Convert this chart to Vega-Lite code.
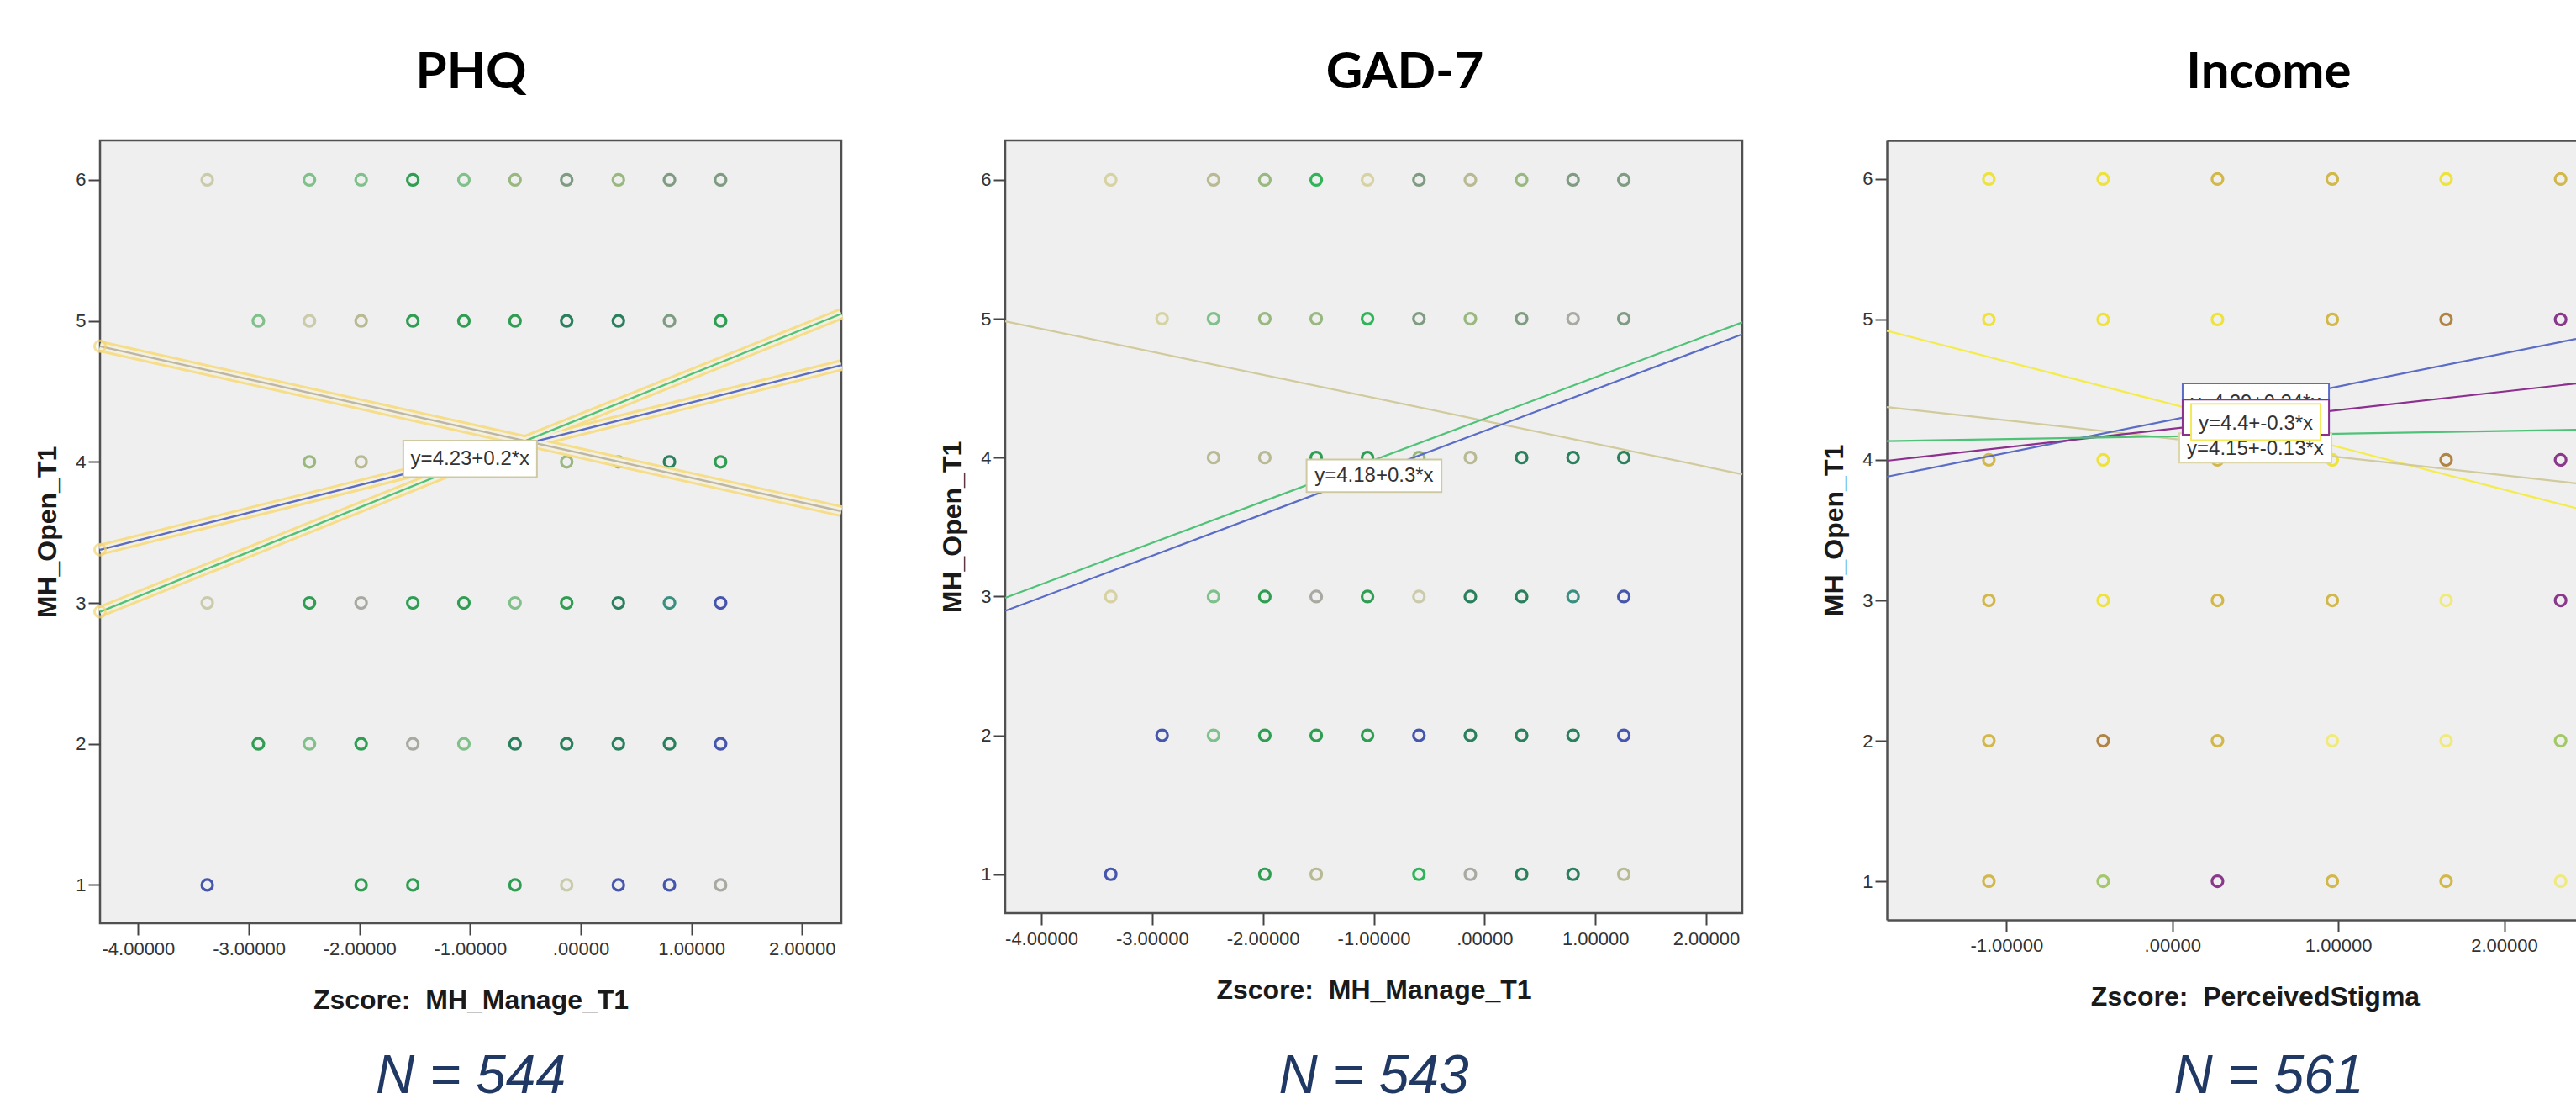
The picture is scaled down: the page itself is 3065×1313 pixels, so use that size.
{
  "$schema": "https://vega.github.io/schema/vega-lite/v6.json",
  "padding": {"left": 39, "top": 54, "right": 0, "bottom": 0},
  "background": "white",
  "config": {
    "font": "Liberation Sans",
    "view": {"fill": "#efefef", "stroke": "#505050", "strokeWidth": 2.5},
    "axis": {"grid": false, "domain": false, "labelFont": "Liberation Sans", "labelFontSize": 22, "labelColor": "#333333", "labelPadding": 6, "tickColor": "#444444", "tickSize": 14, "tickWidth": 2, "titleFont": "Liberation Sans", "titleFontSize": 32, "titleFontWeight": "bold", "titleColor": "#1a1a1a"},
    "axisX": {"titlePadding": 35},
    "axisY": {"titlePadding": 16, "labelPadding": 3},
    "title": {"orient": "bottom", "anchor": "middle", "frame": "group", "font": "Liberation Sans", "fontSize": 64, "fontStyle": "italic", "fontWeight": "normal", "color": "#203864", "offset": 44}
  },
  "datasets": {
    "points": [
      {"panel":"PHQ","x":-3.376,"y":6,"tone":"pale"},{"panel":"PHQ","x":-2.452,"y":6,"tone":"ltgreen"},{"panel":"PHQ","x":-1.985,"y":6,"tone":"ltgreen"},{"panel":"PHQ","x":-1.518,"y":6,"tone":"green"},{"panel":"PHQ","x":-1.056,"y":6,"tone":"ltgreen"},{"panel":"PHQ","x":-0.594,"y":6,"tone":"olive"},{"panel":"PHQ","x":-0.127,"y":6,"tone":"sage"},{"panel":"PHQ","x":0.34,"y":6,"tone":"olive"},{"panel":"PHQ","x":0.802,"y":6,"tone":"sage"},{"panel":"PHQ","x":1.264,"y":6,"tone":"sage"},
      {"panel":"PHQ","x":-2.914,"y":5,"tone":"ltgreen"},{"panel":"PHQ","x":-2.452,"y":5,"tone":"pale"},{"panel":"PHQ","x":-1.985,"y":5,"tone":"tan"},{"panel":"PHQ","x":-1.518,"y":5,"tone":"green"},{"panel":"PHQ","x":-1.056,"y":5,"tone":"green"},{"panel":"PHQ","x":-0.594,"y":5,"tone":"green"},{"panel":"PHQ","x":-0.127,"y":5,"tone":"dkgreen"},{"panel":"PHQ","x":0.34,"y":5,"tone":"dkgreen"},{"panel":"PHQ","x":0.802,"y":5,"tone":"sage"},{"panel":"PHQ","x":1.264,"y":5,"tone":"green"},
      {"panel":"PHQ","x":-2.452,"y":4,"tone":"olive"},{"panel":"PHQ","x":-1.985,"y":4,"tone":"tan"},{"panel":"PHQ","x":-1.518,"y":4,"tone":"green"},{"panel":"PHQ","x":-1.056,"y":4,"tone":"green"},{"panel":"PHQ","x":-0.594,"y":4,"tone":"olive"},{"panel":"PHQ","x":-0.127,"y":4,"tone":"olive"},{"panel":"PHQ","x":0.34,"y":4,"tone":"olive"},{"panel":"PHQ","x":0.802,"y":4,"tone":"dkgreen"},{"panel":"PHQ","x":1.264,"y":4,"tone":"green"},
      {"panel":"PHQ","x":-3.376,"y":3,"tone":"pale"},{"panel":"PHQ","x":-2.452,"y":3,"tone":"green"},{"panel":"PHQ","x":-1.985,"y":3,"tone":"grey"},{"panel":"PHQ","x":-1.518,"y":3,"tone":"green"},{"panel":"PHQ","x":-1.056,"y":3,"tone":"green"},{"panel":"PHQ","x":-0.594,"y":3,"tone":"ltgreen"},{"panel":"PHQ","x":-0.127,"y":3,"tone":"green"},{"panel":"PHQ","x":0.34,"y":3,"tone":"dkgreen"},{"panel":"PHQ","x":0.802,"y":3,"tone":"teal"},{"panel":"PHQ","x":1.264,"y":3,"tone":"blue"},
      {"panel":"PHQ","x":-2.914,"y":2,"tone":"green"},{"panel":"PHQ","x":-2.452,"y":2,"tone":"ltgreen"},{"panel":"PHQ","x":-1.985,"y":2,"tone":"green"},{"panel":"PHQ","x":-1.518,"y":2,"tone":"grey"},{"panel":"PHQ","x":-1.056,"y":2,"tone":"ltgreen"},{"panel":"PHQ","x":-0.594,"y":2,"tone":"dkgreen"},{"panel":"PHQ","x":-0.127,"y":2,"tone":"dkgreen"},{"panel":"PHQ","x":0.34,"y":2,"tone":"dkgreen"},{"panel":"PHQ","x":0.802,"y":2,"tone":"dkgreen"},{"panel":"PHQ","x":1.264,"y":2,"tone":"blue"},
      {"panel":"PHQ","x":-3.376,"y":1,"tone":"blue"},{"panel":"PHQ","x":-1.985,"y":1,"tone":"green"},{"panel":"PHQ","x":-1.518,"y":1,"tone":"green"},{"panel":"PHQ","x":-0.594,"y":1,"tone":"green"},{"panel":"PHQ","x":-0.127,"y":1,"tone":"pale"},{"panel":"PHQ","x":0.34,"y":1,"tone":"blue"},{"panel":"PHQ","x":0.802,"y":1,"tone":"blue"},{"panel":"PHQ","x":1.264,"y":1,"tone":"grey"},

      {"panel":"GAD","x":-3.373,"y":6,"tone":"cream"},{"panel":"GAD","x":-2.446,"y":6,"tone":"tan"},{"panel":"GAD","x":-1.983,"y":6,"tone":"olive"},{"panel":"GAD","x":-1.519,"y":6,"tone":"brightgreen"},{"panel":"GAD","x":-1.056,"y":6,"tone":"cream"},{"panel":"GAD","x":-0.592,"y":6,"tone":"sage"},{"panel":"GAD","x":-0.128,"y":6,"tone":"tan"},{"panel":"GAD","x":0.335,"y":6,"tone":"olive"},{"panel":"GAD","x":0.799,"y":6,"tone":"sage"},{"panel":"GAD","x":1.257,"y":6,"tone":"sage"},
      {"panel":"GAD","x":-2.91,"y":5,"tone":"cream"},{"panel":"GAD","x":-2.446,"y":5,"tone":"ltgreen"},{"panel":"GAD","x":-1.983,"y":5,"tone":"olive"},{"panel":"GAD","x":-1.519,"y":5,"tone":"olive"},{"panel":"GAD","x":-1.056,"y":5,"tone":"brightgreen"},{"panel":"GAD","x":-0.592,"y":5,"tone":"sage"},{"panel":"GAD","x":-0.128,"y":5,"tone":"olive"},{"panel":"GAD","x":0.335,"y":5,"tone":"sage"},{"panel":"GAD","x":0.799,"y":5,"tone":"grey"},{"panel":"GAD","x":1.257,"y":5,"tone":"sage"},
      {"panel":"GAD","x":-2.446,"y":4,"tone":"tan"},{"panel":"GAD","x":-1.983,"y":4,"tone":"tan"},{"panel":"GAD","x":-1.519,"y":4,"tone":"green"},{"panel":"GAD","x":-1.056,"y":4,"tone":"green"},{"panel":"GAD","x":-0.592,"y":4,"tone":"olive"},{"panel":"GAD","x":-0.128,"y":4,"tone":"tan"},{"panel":"GAD","x":0.335,"y":4,"tone":"dkgreen"},{"panel":"GAD","x":0.799,"y":4,"tone":"dkgreen"},{"panel":"GAD","x":1.257,"y":4,"tone":"dkgreen"},
      {"panel":"GAD","x":-3.373,"y":3,"tone":"cream"},{"panel":"GAD","x":-2.446,"y":3,"tone":"ltgreen"},{"panel":"GAD","x":-1.983,"y":3,"tone":"green"},{"panel":"GAD","x":-1.519,"y":3,"tone":"grey"},{"panel":"GAD","x":-1.056,"y":3,"tone":"green"},{"panel":"GAD","x":-0.592,"y":3,"tone":"pale"},{"panel":"GAD","x":-0.128,"y":3,"tone":"dkgreen"},{"panel":"GAD","x":0.335,"y":3,"tone":"dkgreen"},{"panel":"GAD","x":0.799,"y":3,"tone":"teal"},{"panel":"GAD","x":1.257,"y":3,"tone":"blue"},
      {"panel":"GAD","x":-2.91,"y":2,"tone":"blue"},{"panel":"GAD","x":-2.446,"y":2,"tone":"ltgreen"},{"panel":"GAD","x":-1.983,"y":2,"tone":"green"},{"panel":"GAD","x":-1.519,"y":2,"tone":"green"},{"panel":"GAD","x":-1.056,"y":2,"tone":"green"},{"panel":"GAD","x":-0.592,"y":2,"tone":"blue"},{"panel":"GAD","x":-0.128,"y":2,"tone":"dkgreen"},{"panel":"GAD","x":0.335,"y":2,"tone":"dkgreen"},{"panel":"GAD","x":0.799,"y":2,"tone":"dkgreen"},{"panel":"GAD","x":1.257,"y":2,"tone":"blue"},
      {"panel":"GAD","x":-3.373,"y":1,"tone":"blue"},{"panel":"GAD","x":-1.983,"y":1,"tone":"green"},{"panel":"GAD","x":-1.519,"y":1,"tone":"tan"},{"panel":"GAD","x":-0.592,"y":1,"tone":"brightgreen"},{"panel":"GAD","x":-0.128,"y":1,"tone":"grey"},{"panel":"GAD","x":0.335,"y":1,"tone":"dkgreen"},{"panel":"GAD","x":0.799,"y":1,"tone":"dkgreen"},{"panel":"GAD","x":1.257,"y":1,"tone":"tan"},

      {"panel":"Income","x":-1.106,"y":6,"tone":"yellow"},{"panel":"Income","x":-0.417,"y":6,"tone":"yellow"},{"panel":"Income","x":0.272,"y":6,"tone":"ochre"},{"panel":"Income","x":0.964,"y":6,"tone":"ochre"},{"panel":"Income","x":1.65,"y":6,"tone":"yellow"},{"panel":"Income","x":2.34,"y":6,"tone":"ochre"},
      {"panel":"Income","x":-1.106,"y":5,"tone":"yellow"},{"panel":"Income","x":-0.417,"y":5,"tone":"yellow"},{"panel":"Income","x":0.272,"y":5,"tone":"yellow"},{"panel":"Income","x":0.964,"y":5,"tone":"ochre"},{"panel":"Income","x":1.65,"y":5,"tone":"brown"},{"panel":"Income","x":2.34,"y":5,"tone":"purple"},
      {"panel":"Income","x":-1.106,"y":4,"tone":"ochre"},{"panel":"Income","x":-0.417,"y":4,"tone":"yellow"},{"panel":"Income","x":0.272,"y":4,"tone":"ochre"},{"panel":"Income","x":0.964,"y":4,"tone":"yellow"},{"panel":"Income","x":1.65,"y":4,"tone":"brown"},{"panel":"Income","x":2.34,"y":4,"tone":"purple"},
      {"panel":"Income","x":-1.106,"y":3,"tone":"ochre"},{"panel":"Income","x":-0.417,"y":3,"tone":"yellow"},{"panel":"Income","x":0.272,"y":3,"tone":"ochre"},{"panel":"Income","x":0.964,"y":3,"tone":"ochre"},{"panel":"Income","x":1.65,"y":3,"tone":"lemon"},{"panel":"Income","x":2.34,"y":3,"tone":"purple"},
      {"panel":"Income","x":-1.106,"y":2,"tone":"ochre"},{"panel":"Income","x":-0.417,"y":2,"tone":"brown"},{"panel":"Income","x":0.272,"y":2,"tone":"ochre"},{"panel":"Income","x":0.964,"y":2,"tone":"lemon"},{"panel":"Income","x":1.65,"y":2,"tone":"lemon"},{"panel":"Income","x":2.34,"y":2,"tone":"lime"},
      {"panel":"Income","x":-1.106,"y":1,"tone":"ochre"},{"panel":"Income","x":-0.417,"y":1,"tone":"lime"},{"panel":"Income","x":0.272,"y":1,"tone":"purple"},{"panel":"Income","x":0.964,"y":1,"tone":"ochre"},{"panel":"Income","x":1.65,"y":1,"tone":"ochre"},{"panel":"Income","x":2.34,"y":1,"tone":"lemon"}
    ],
    "lines": [
      {"panel":"PHQ","tone":"lineblue","x":-4.345,"y":3.377},{"panel":"PHQ","tone":"lineblue","x":2.355,"y":4.686},
      {"panel":"PHQ","tone":"linegreen","x":-4.345,"y":2.937},{"panel":"PHQ","tone":"linegreen","x":2.355,"y":5.05},
      {"panel":"PHQ","tone":"linegrey","x":-4.345,"y":4.82},{"panel":"PHQ","tone":"linegrey","x":2.355,"y":3.65},
      {"panel":"GAD","tone":"linebeige","x":-4.326,"y":4.982},{"panel":"GAD","tone":"linebeige","x":2.326,"y":3.88},
      {"panel":"GAD","tone":"linegreen","x":-4.326,"y":2.99},{"panel":"GAD","tone":"linegreen","x":2.326,"y":4.974},
      {"panel":"GAD","tone":"lineblue","x":-4.326,"y":2.896},{"panel":"GAD","tone":"lineblue","x":2.326,"y":4.889},
      {"panel":"Income","tone":"lineyellow","x":-1.721,"y":4.92},{"panel":"Income","tone":"lineyellow","x":2.438,"y":3.655},
      {"panel":"Income","tone":"linebeige","x":-1.721,"y":4.376},{"panel":"Income","tone":"linebeige","x":2.438,"y":3.833},
      {"panel":"Income","tone":"lineblue","x":-1.721,"y":3.88},{"panel":"Income","tone":"lineblue","x":2.438,"y":4.863},
      {"panel":"Income","tone":"linepurple","x":-1.721,"y":3.994},{"panel":"Income","tone":"linepurple","x":2.438,"y":4.545},
      {"panel":"Income","tone":"linegreen","x":-1.721,"y":4.134},{"panel":"Income","tone":"linegreen","x":2.438,"y":4.215}
    ],
    "labels": [
      {"panel":"PHQ","order":1,"x":-1.604,"x2":-0.396,"y":3.891,"y2":4.151,"tx":-1.0,"ty":4.02,"text":"y=4.23+0.2*x","tone":"boxtan"},
      {"panel":"GAD","order":1,"x":-1.606,"x2":-0.388,"y":3.752,"y2":3.986,"tx":-0.997,"ty":3.87,"text":"y=4.18+0.3*x","tone":"boxtan"},
      {"panel":"Income","order":1,"x":0.062,"x2":0.944,"y":4.2,"y2":4.545,"tx":0.503,"ty":4.41,"text":"y=4.29+0.24*x","tone":"lineblue"},
      {"panel":"Income","order":2,"x":0.042,"x2":0.959,"y":3.98,"y2":4.19,"tx":0.5,"ty":4.08,"text":"y=4.15+-0.13*x","tone":"linebeige"},
      {"panel":"Income","order":3,"x":0.062,"x2":0.944,"y":4.18,"y2":4.43,"tx":0.503,"ty":4.29,"text":"y=4.22+0.13*x","tone":"linepurple"},
      {"panel":"Income","order":4,"x":0.113,"x2":0.893,"y":4.14,"y2":4.4,"tx":0.503,"ty":4.26,"text":"y=4.4+-0.3*x","tone":"lineyellow"}
    ]
  },
  "spacing": 87,
  "hconcat": [
    {
      "spacing": 85,
      "hconcat": [
        {
          "width": 882, "height": 931,
          "title": {"text": "N = 544"},
          "resolve": {"axis": {"x": "independent", "y": "independent"}},
          "layer": [
            {"data": {"name": "points"}, "transform": [{"filter": "datum.panel == 'PHQ'"}],
             "mark": {"type": "point", "shape": "circle", "filled": false, "size": 170, "strokeWidth": 3.2, "opacity": 1},
             "encoding": {
               "x": {"field": "x", "type": "quantitative", "scale": {"domain": [-4.345, 2.355], "nice": false, "zero": false}, "axis": {"orient": "bottom", "title": "Zscore:\u00a0 MH_Manage_T1", "values": [-4, -3, -2, -1, 0, 1, 2], "labelExpr": "datum.value == 0 ? '.00000' : (datum.value < 0 ? '-' : '') + format(abs(datum.value), '.5f')"}},
               "y": {"field": "y", "type": "quantitative", "scale": {"domain": [0.728, 6.28], "nice": false, "zero": false}, "axis": {"orient": "left", "title": "MH_Open_T1", "values": [1, 2, 3, 4, 5, 6]}},
               "color": {"field": "tone", "type": "nominal", "legend": null, "scale": {"domain": ["green","dkgreen","ltgreen","olive","sage","tan","pale","grey","teal","blue","cream","brightgreen","yellow","ochre","brown","purple","lemon","lime","lineblue","linegreen","linebeige","linegrey","lineyellow","linepurple","boxtan"], "range": ["#2f9d52","#2a805c","#80c08a","#98b880","#7f9c82","#b9b994","#cbcbac","#a9a9a1","#3a9080","#4656ad","#d6d2a2","#2fb458","#eee23c","#d2b84a","#b08444","#8a388a","#f0ea7c","#a3c86a","#5a6cc6","#50c278","#d0ca9c","#bcb6a6","#f4ec4e","#8c2f8e","#cfc9a2"]}}
             }},
            {"data": {"name": "lines"}, "transform": [{"filter": "datum.panel == 'PHQ'"}],
             "mark": {"type": "line", "color": "#f6da7e", "strokeWidth": 14, "opacity": 0.9},
             "encoding": {
               "x": {"field": "x", "type": "quantitative", "scale": {"domain": [-4.345, 2.355], "nice": false, "zero": false}, "axis": {"orient": "top", "title": "PHQ", "labels": false, "ticks": false, "domain": false, "titleFont": "Lato", "titleFontSize": 60, "titleFontWeight": "bold", "titleColor": "#000000", "titlePadding": 50}},
               "y": {"field": "y", "type": "quantitative", "scale": {"domain": [0.728, 6.28], "nice": false, "zero": false}, "axis": null},
               "detail": {"field": "tone"}
             }},
            {"data": {"name": "lines"}, "transform": [{"filter": "datum.panel == 'PHQ'"}],
             "mark": {"type": "line", "color": "#f4f0df", "strokeWidth": 8},
             "encoding": {
               "x": {"field": "x", "type": "quantitative", "scale": {"domain": [-4.345, 2.355], "nice": false, "zero": false}, "axis": null},
               "y": {"field": "y", "type": "quantitative", "scale": {"domain": [0.728, 6.28], "nice": false, "zero": false}, "axis": null},
               "detail": {"field": "tone"}
             }},
            {"data": {"name": "lines"}, "transform": [{"filter": "datum.panel == 'PHQ'"}],
             "mark": {"type": "line", "strokeWidth": 2.4},
             "encoding": {
               "x": {"field": "x", "type": "quantitative", "scale": {"domain": [-4.345, 2.355], "nice": false, "zero": false}, "axis": null},
               "y": {"field": "y", "type": "quantitative", "scale": {"domain": [0.728, 6.28], "nice": false, "zero": false}, "axis": null},
               "color": {"field": "tone", "type": "nominal", "legend": null, "scale": {"domain": ["green","dkgreen","ltgreen","olive","sage","tan","pale","grey","teal","blue","cream","brightgreen","yellow","ochre","brown","purple","lemon","lime","lineblue","linegreen","linebeige","linegrey","lineyellow","linepurple","boxtan"], "range": ["#2f9d52","#2a805c","#80c08a","#98b880","#7f9c82","#b9b994","#cbcbac","#a9a9a1","#3a9080","#4656ad","#d6d2a2","#2fb458","#eee23c","#d2b84a","#b08444","#8a388a","#f0ea7c","#a3c86a","#5a6cc6","#50c278","#d0ca9c","#bcb6a6","#f4ec4e","#8c2f8e","#cfc9a2"]}}
             }},
            {"data": {"name": "lines"}, "transform": [{"filter": "datum.panel == 'PHQ' && datum.x < -4"}],
             "mark": {"type": "point", "shape": "circle", "filled": false, "size": 170, "strokeWidth": 3, "color": "#f3d572"},
             "encoding": {
               "x": {"field": "x", "type": "quantitative", "scale": {"domain": [-4.345, 2.355], "nice": false, "zero": false}, "axis": null},
               "y": {"field": "y", "type": "quantitative", "scale": {"domain": [0.728, 6.28], "nice": false, "zero": false}, "axis": null}
             }},
            {"data": {"name": "labels"}, "transform": [{"filter": "datum.panel == 'PHQ'"}],
             "layer": [
               {"mark": {"type": "rect", "fill": "#ffffff", "strokeWidth": 2},
                "encoding": {
                  "x": {"field": "x", "type": "quantitative", "scale": {"domain": [-4.345, 2.355], "nice": false, "zero": false}, "axis": null},
                  "x2": {"field": "x2"},
                  "y": {"field": "y", "type": "quantitative", "scale": {"domain": [0.728, 6.28], "nice": false, "zero": false}, "axis": null},
                  "y2": {"field": "y2"},
                  "stroke": {"field": "tone", "type": "nominal", "legend": null, "scale": {"domain": ["boxtan","lineblue","linebeige","linepurple","lineyellow"], "range": ["#cfc9a2","#5a6cc6","#ddd6a8","#8c2f8e","#f2ea5a"]}}
                }},
               {"mark": {"type": "text", "font": "Liberation Sans", "fontSize": 24, "color": "#333333", "align": "center", "baseline": "middle"},
                "encoding": {
                  "x": {"field": "tx", "type": "quantitative", "scale": {"domain": [-4.345, 2.355], "nice": false, "zero": false}, "axis": null},
                  "y": {"field": "ty", "type": "quantitative", "scale": {"domain": [0.728, 6.28], "nice": false, "zero": false}, "axis": null},
                  "text": {"field": "text"}
                }}
             ]}
          ]
        },
        {
          "width": 877, "height": 919,
          "title": {"text": "N = 543", "offset": 56},
          "resolve": {"axis": {"x": "independent", "y": "independent"}},
          "layer": [
            {"data": {"name": "points"}, "transform": [{"filter": "datum.panel == 'GAD'"}],
             "mark": {"type": "point", "shape": "circle", "filled": false, "size": 170, "strokeWidth": 3.2, "opacity": 1},
             "encoding": {
               "x": {"field": "x", "type": "quantitative", "scale": {"domain": [-4.326, 2.326], "nice": false, "zero": false}, "axis": {"orient": "bottom", "title": "Zscore:\u00a0 MH_Manage_T1", "values": [-4, -3, -2, -1, 0, 1, 2], "labelExpr": "datum.value == 0 ? '.00000' : (datum.value < 0 ? '-' : '') + format(abs(datum.value), '.5f')"}},
               "y": {"field": "y", "type": "quantitative", "scale": {"domain": [0.72, 6.284], "nice": false, "zero": false}, "axis": {"orient": "left", "title": "MH_Open_T1", "values": [1, 2, 3, 4, 5, 6]}},
               "color": {"field": "tone", "type": "nominal", "legend": null, "scale": {"domain": ["green","dkgreen","ltgreen","olive","sage","tan","pale","grey","teal","blue","cream","brightgreen","yellow","ochre","brown","purple","lemon","lime","lineblue","linegreen","linebeige","linegrey","lineyellow","linepurple","boxtan"], "range": ["#2f9d52","#2a805c","#80c08a","#98b880","#7f9c82","#b9b994","#cbcbac","#a9a9a1","#3a9080","#4656ad","#d6d2a2","#2fb458","#eee23c","#d2b84a","#b08444","#8a388a","#f0ea7c","#a3c86a","#5a6cc6","#50c278","#d0ca9c","#bcb6a6","#f4ec4e","#8c2f8e","#cfc9a2"]}}
             }},
            {"data": {"name": "lines"}, "transform": [{"filter": "datum.panel == 'GAD'"}],
             "mark": {"type": "line", "strokeWidth": 2.2},
             "encoding": {
               "x": {"field": "x", "type": "quantitative", "scale": {"domain": [-4.326, 2.326], "nice": false, "zero": false}, "axis": {"orient": "top", "title": "GAD-7", "titleX": 475, "labels": false, "ticks": false, "domain": false, "titleFont": "Lato", "titleFontSize": 60, "titleFontWeight": "bold", "titleColor": "#000000", "titlePadding": 50}},
               "y": {"field": "y", "type": "quantitative", "scale": {"domain": [0.72, 6.284], "nice": false, "zero": false}, "axis": null},
               "color": {"field": "tone", "type": "nominal", "legend": null, "scale": {"domain": ["green","dkgreen","ltgreen","olive","sage","tan","pale","grey","teal","blue","cream","brightgreen","yellow","ochre","brown","purple","lemon","lime","lineblue","linegreen","linebeige","linegrey","lineyellow","linepurple","boxtan"], "range": ["#2f9d52","#2a805c","#80c08a","#98b880","#7f9c82","#b9b994","#cbcbac","#a9a9a1","#3a9080","#4656ad","#d6d2a2","#2fb458","#eee23c","#d2b84a","#b08444","#8a388a","#f0ea7c","#a3c86a","#5a6cc6","#50c278","#d0ca9c","#bcb6a6","#f4ec4e","#8c2f8e","#cfc9a2"]}}
             }},
            {"data": {"name": "labels"}, "transform": [{"filter": "datum.panel == 'GAD'"}],
             "layer": [
               {"mark": {"type": "rect", "fill": "#ffffff", "strokeWidth": 2},
                "encoding": {
                  "x": {"field": "x", "type": "quantitative", "scale": {"domain": [-4.326, 2.326], "nice": false, "zero": false}, "axis": null},
                  "x2": {"field": "x2"},
                  "y": {"field": "y", "type": "quantitative", "scale": {"domain": [0.72, 6.284], "nice": false, "zero": false}, "axis": null},
                  "y2": {"field": "y2"},
                  "stroke": {"field": "tone", "type": "nominal", "legend": null, "scale": {"domain": ["boxtan","lineblue","linebeige","linepurple","lineyellow"], "range": ["#cfc9a2","#5a6cc6","#ddd6a8","#8c2f8e","#f2ea5a"]}}
                }},
               {"mark": {"type": "text", "font": "Liberation Sans", "fontSize": 24, "color": "#333333", "align": "center", "baseline": "middle"},
                "encoding": {
                  "x": {"field": "tx", "type": "quantitative", "scale": {"domain": [-4.326, 2.326], "nice": false, "zero": false}, "axis": null},
                  "y": {"field": "ty", "type": "quantitative", "scale": {"domain": [0.72, 6.284], "nice": false, "zero": false}, "axis": null},
                  "text": {"field": "text"}
                }}
             ]}
          ]
        }
      ]
    },
    {
      "width": 821, "height": 927,
      "view": {"fill": "#efefef", "stroke": null},
      "title": {"text": "N = 561", "offset": 48, "dx": 44},
      "resolve": {"axis": {"x": "independent", "y": "independent"}},
      "layer": [
        {"data": {"name": "points"}, "transform": [{"filter": "datum.panel == 'Income'"}],
         "mark": {"type": "point", "shape": "circle", "filled": false, "size": 170, "strokeWidth": 3.2, "opacity": 1},
         "encoding": {
           "x": {"field": "x", "type": "quantitative", "scale": {"domain": [-1.721, 2.438], "nice": false, "zero": false}, "axis": {"orient": "bottom", "title": "Zscore:\u00a0 PerceivedStigma", "titleX": 438, "domain": true, "domainColor": "#505050", "domainWidth": 2.5, "values": [-1, 0, 1, 2], "labelExpr": "datum.value == 0 ? '.00000' : (datum.value < 0 ? '-' : '') + format(abs(datum.value), '.5f')"}},
           "y": {"field": "y", "type": "quantitative", "scale": {"domain": [0.725, 6.275], "nice": false, "zero": false}, "axis": {"orient": "left", "title": "MH_Open_T1", "values": [1, 2, 3, 4, 5, 6], "domain": true, "domainColor": "#505050", "domainWidth": 2.5}},
           "color": {"field": "tone", "type": "nominal", "legend": null, "scale": {"domain": ["green","dkgreen","ltgreen","olive","sage","tan","pale","grey","teal","blue","cream","brightgreen","yellow","ochre","brown","purple","lemon","lime","lineblue","linegreen","linebeige","linegrey","lineyellow","linepurple","boxtan"], "range": ["#2f9d52","#2a805c","#80c08a","#98b880","#7f9c82","#b9b994","#cbcbac","#a9a9a1","#3a9080","#4656ad","#d6d2a2","#2fb458","#eee23c","#d2b84a","#b08444","#8a388a","#f0ea7c","#a3c86a","#5a6cc6","#50c278","#d0ca9c","#bcb6a6","#f4ec4e","#8c2f8e","#cfc9a2"]}}
         }},
        {"data": {"name": "lines"}, "transform": [{"filter": "datum.panel == 'Income'"}],
         "mark": {"type": "line", "strokeWidth": 2.2},
         "encoding": {
           "x": {"field": "x", "type": "quantitative", "scale": {"domain": [-1.721, 2.438], "nice": false, "zero": false}, "axis": {"orient": "top", "title": "Income", "titleX": 454, "labels": false, "ticks": false, "domain": true, "domainColor": "#505050", "domainWidth": 2.5, "titleFont": "Lato", "titleFontSize": 60, "titleFontWeight": "bold", "titleColor": "#000000", "titlePadding": 50}},
           "y": {"field": "y", "type": "quantitative", "scale": {"domain": [0.725, 6.275], "nice": false, "zero": false}, "axis": null},
           "color": {"field": "tone", "type": "nominal", "legend": null, "scale": {"domain": ["green","dkgreen","ltgreen","olive","sage","tan","pale","grey","teal","blue","cream","brightgreen","yellow","ochre","brown","purple","lemon","lime","lineblue","linegreen","linebeige","linegrey","lineyellow","linepurple","boxtan"], "range": ["#2f9d52","#2a805c","#80c08a","#98b880","#7f9c82","#b9b994","#cbcbac","#a9a9a1","#3a9080","#4656ad","#d6d2a2","#2fb458","#eee23c","#d2b84a","#b08444","#8a388a","#f0ea7c","#a3c86a","#5a6cc6","#50c278","#d0ca9c","#bcb6a6","#f4ec4e","#8c2f8e","#cfc9a2"]}}
         }},
        {"data": {"name": "labels"}, "transform": [{"filter": "datum.panel == 'Income' && datum.order == 1"}],
         "layer": [
           {"mark": {"type": "rect", "fill": "#ffffff", "strokeWidth": 2},
            "encoding": {
              "x": {"field": "x", "type": "quantitative", "scale": {"domain": [-1.721, 2.438], "nice": false, "zero": false}, "axis": null},
              "x2": {"field": "x2"},
              "y": {"field": "y", "type": "quantitative", "scale": {"domain": [0.725, 6.275], "nice": false, "zero": false}, "axis": null},
              "y2": {"field": "y2"},
              "stroke": {"field": "tone", "type": "nominal", "legend": null, "scale": {"domain": ["boxtan","lineblue","linebeige","linepurple","lineyellow"], "range": ["#cfc9a2","#5a6cc6","#ddd6a8","#8c2f8e","#f2ea5a"]}}
            }},
           {"mark": {"type": "text", "font": "Liberation Sans", "fontSize": 24, "color": "#333333", "align": "center", "baseline": "middle"},
            "encoding": {
              "x": {"field": "tx", "type": "quantitative", "scale": {"domain": [-1.721, 2.438], "nice": false, "zero": false}, "axis": null},
              "y": {"field": "ty", "type": "quantitative", "scale": {"domain": [0.725, 6.275], "nice": false, "zero": false}, "axis": null},
              "text": {"field": "text"}
            }}
         ]},
        {"data": {"name": "labels"}, "transform": [{"filter": "datum.panel == 'Income' && datum.order == 2"}],
         "layer": [
           {"mark": {"type": "rect", "fill": "#ffffff", "strokeWidth": 2},
            "encoding": {
              "x": {"field": "x", "type": "quantitative", "scale": {"domain": [-1.721, 2.438], "nice": false, "zero": false}, "axis": null},
              "x2": {"field": "x2"},
              "y": {"field": "y", "type": "quantitative", "scale": {"domain": [0.725, 6.275], "nice": false, "zero": false}, "axis": null},
              "y2": {"field": "y2"},
              "stroke": {"field": "tone", "type": "nominal", "legend": null, "scale": {"domain": ["boxtan","lineblue","linebeige","linepurple","lineyellow"], "range": ["#cfc9a2","#5a6cc6","#ddd6a8","#8c2f8e","#f2ea5a"]}}
            }},
           {"mark": {"type": "text", "font": "Liberation Sans", "fontSize": 24, "color": "#333333", "align": "center", "baseline": "middle"},
            "encoding": {
              "x": {"field": "tx", "type": "quantitative", "scale": {"domain": [-1.721, 2.438], "nice": false, "zero": false}, "axis": null},
              "y": {"field": "ty", "type": "quantitative", "scale": {"domain": [0.725, 6.275], "nice": false, "zero": false}, "axis": null},
              "text": {"field": "text"}
            }}
         ]},
        {"data": {"name": "labels"}, "transform": [{"filter": "datum.panel == 'Income' && datum.order == 3"}],
         "layer": [
           {"mark": {"type": "rect", "fill": "#ffffff", "strokeWidth": 2},
            "encoding": {
              "x": {"field": "x", "type": "quantitative", "scale": {"domain": [-1.721, 2.438], "nice": false, "zero": false}, "axis": null},
              "x2": {"field": "x2"},
              "y": {"field": "y", "type": "quantitative", "scale": {"domain": [0.725, 6.275], "nice": false, "zero": false}, "axis": null},
              "y2": {"field": "y2"},
              "stroke": {"field": "tone", "type": "nominal", "legend": null, "scale": {"domain": ["boxtan","lineblue","linebeige","linepurple","lineyellow"], "range": ["#cfc9a2","#5a6cc6","#ddd6a8","#8c2f8e","#f2ea5a"]}}
            }},
           {"mark": {"type": "text", "font": "Liberation Sans", "fontSize": 24, "color": "#333333", "align": "center", "baseline": "middle"},
            "encoding": {
              "x": {"field": "tx", "type": "quantitative", "scale": {"domain": [-1.721, 2.438], "nice": false, "zero": false}, "axis": null},
              "y": {"field": "ty", "type": "quantitative", "scale": {"domain": [0.725, 6.275], "nice": false, "zero": false}, "axis": null},
              "text": {"field": "text"}
            }}
         ]},
        {"data": {"name": "labels"}, "transform": [{"filter": "datum.panel == 'Income' && datum.order == 4"}],
         "layer": [
           {"mark": {"type": "rect", "fill": "#ffffff", "strokeWidth": 2},
            "encoding": {
              "x": {"field": "x", "type": "quantitative", "scale": {"domain": [-1.721, 2.438], "nice": false, "zero": false}, "axis": null},
              "x2": {"field": "x2"},
              "y": {"field": "y", "type": "quantitative", "scale": {"domain": [0.725, 6.275], "nice": false, "zero": false}, "axis": null},
              "y2": {"field": "y2"},
              "stroke": {"field": "tone", "type": "nominal", "legend": null, "scale": {"domain": ["boxtan","lineblue","linebeige","linepurple","lineyellow"], "range": ["#cfc9a2","#5a6cc6","#ddd6a8","#8c2f8e","#f2ea5a"]}}
            }},
           {"mark": {"type": "text", "font": "Liberation Sans", "fontSize": 24, "color": "#333333", "align": "center", "baseline": "middle"},
            "encoding": {
              "x": {"field": "tx", "type": "quantitative", "scale": {"domain": [-1.721, 2.438], "nice": false, "zero": false}, "axis": null},
              "y": {"field": "ty", "type": "quantitative", "scale": {"domain": [0.725, 6.275], "nice": false, "zero": false}, "axis": null},
              "text": {"field": "text"}
            }}
         ]}
      ]
    }
  ]
}
